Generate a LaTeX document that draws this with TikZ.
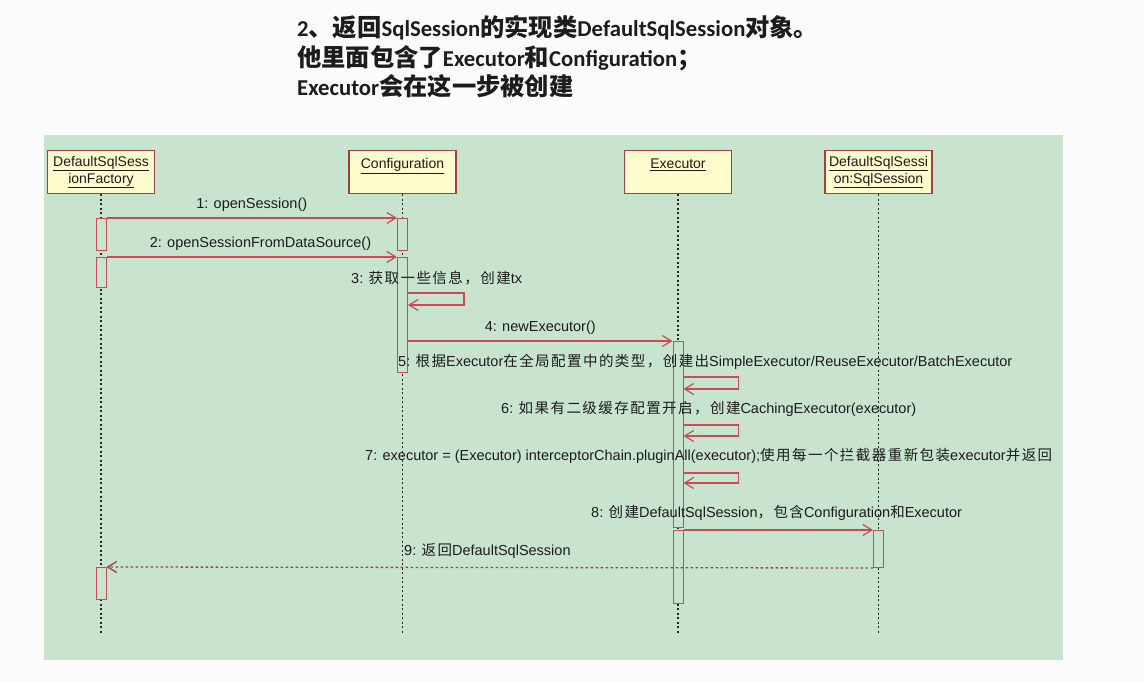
\documentclass[tikz,border=0pt]{standalone}
\usepackage{fontspec}
\setmainfont{Liberation Sans}
\newfontfamily\cjk{Noto Sans CJK SC}[LetterSpace=10]
\newfontfamily\hdcjk{Noto Sans CJK SC}[Scale=1.07]
\newfontfamily\hdlat{Carlito}
\usetikzlibrary{arrows.meta,positioning}
\definecolor{paper}{RGB}{250,251,250}
\definecolor{panel}{RGB}{200,228,207}
\definecolor{headfill}{RGB}{255,252,206}
\definecolor{headline}{RGB}{160,64,64}
\definecolor{msgred}{RGB}{200,76,88}
\definecolor{retred}{RGB}{150,70,70}
\definecolor{ink}{RGB}{28,28,28}
\newcommand{\zh}[1]{{\cjk #1}}
\newcommand{\hz}[1]{{\hdcjk #1}}

\begin{document}
\begin{tikzpicture}[x=1pt, y=-1pt,
  head/.style={draw=headline, line width=1.5pt, fill=headfill, minimum width=107pt,
    minimum height=43pt, align=center, text=ink, inner sep=1pt,
    font=\fontsize{14}{17}\selectfont},
  act/.style={draw=msgred, line width=1pt, fill=panel, minimum width=10pt, inner sep=0pt},
  life/.style={black!85, line width=1.2pt, dash pattern=on 2pt off 2.5pt},
  msg/.style={->, draw=msgred, line width=1.2pt},
  ret/.style={->, draw=retred, line width=1.3pt, dash pattern=on 2.5pt off 2.5pt},
  lbl/.style={text=ink, inner sep=1pt, font=\fontsize{14.5}{17}\selectfont},
  title/.style={anchor=west, inner sep=0pt, text=ink, font=\hdlat\bfseries\fontsize{22.7}{27}\selectfont},
  >={Straight Barb[length=9pt, width=11pt]}]

\useasboundingbox[fill=paper] (0,0) rectangle (1144,682);
\fill[panel] (44,135) rectangle (1063,660);

% heading
\node[title] (t1) at (297,28) {2\hz{、返回}SqlSession\hz{的实现类}DefaultSqlSession\hz{对象。}};
\node[title] (t2) at (297,58) {\hz{他里面包含了}Executor\hz{和}Configuration\hz{；}};
\node[title] (t3) at (297,86) {Executor\hz{会在这一步被创建}};

% objects
\node[head] (fac) at (101,172) {\underline{DefaultSqlSess}\\\underline{ionFactory}};
\node[head, right=193pt of fac] (cfg) {\underline{Configuration}\\\mbox{}};
\node[head, right=167pt of cfg] (exe) {\underline{Executor}\\\mbox{}};
\node[head, right=92pt of exe] (ses) {\underline{DefaultSqlSessi}\\\underline{on:SqlSession}};

\coordinate (bottom) at (0,635);
\draw[life] (fac.south) -- (fac |- bottom);
\draw[life] (cfg.south) -- (cfg |- bottom);
\draw[life] (exe.south) -- (exe |- bottom);
\draw[life] (ses.south) -- (ses |- bottom);

% activations
\node[act, anchor=north, minimum height=32pt] (fa1) at (fac |- 0,218) {};
\node[act, anchor=north, minimum height=30pt] (fa2) at (fac |- 0,257) {};
\node[act, anchor=north, minimum height=32pt] (fa3) at (fac |- 0,567) {};
\node[act, anchor=north, minimum height=32pt] (ca1) at (cfg |- 0,218) {};
\node[act, anchor=north, minimum height=115pt] (ca2) at (cfg |- 0,257) {};
\node[act, anchor=north, minimum height=186pt] (ea1) at (exe |- 0,341) {};
\node[act, anchor=north, minimum height=73pt] (ea2) at (exe |- 0,530) {};
\node[act, anchor=north, minimum height=37pt] (sa1) at (ses |- 0,530) {};

% messages
\draw[msg] (fa1.north east) -- node[lbl, above=5pt] (l1) {1: openSession()} (ca1.north west);
\draw[msg] (fa2.north east) -- node[lbl, above=5pt, pos=0.53] (l2) {2: openSessionFromDataSource()} (ca2.north west);
\draw[msg] (ca2.east |- 0,293) -- ++(56,0) |- (ca2.east |- 0,305);
\node[lbl, anchor=west] (l3) at (350,278) {3: \zh{获取一些信息，创建}tx};
\draw[msg] (ea1.north west -| ca2.east) -- node[lbl, above=5pt] (l4) {4: newExecutor()} (ea1.north west);
\draw[msg] (ea1.east |- 0,377) -- ++(55,0) |- (ea1.east |- 0,389);
\node[lbl, anchor=west] (l5) at (397,362) {5: \zh{根据}Executor\zh{在全局配置中的类型，创建出}SimpleExecutor/ReuseExecutor/BatchExecutor};
\draw[msg] (ea1.east |- 0,425) -- ++(55,0) |- (ea1.east |- 0,436);
\node[lbl, anchor=west] (l6) at (500,409) {6: \zh{如果有二级缓存配置开启，创建}CachingExecutor(executor)};
\draw[msg] (ea1.east |- 0,473) -- ++(55,0) |- (ea1.east |- 0,483);
\node[lbl, anchor=west] (l7) at (364,456) {7: executor = (Executor) interceptorChain.pluginAll(executor);\zh{使用每一个拦截器重新包装}executor\zh{并返回}};
\draw[msg] (ea2.north east) -- (sa1.north west);
\node[lbl, anchor=west] (l8) at (590,513) {8: \zh{创建}DefaultSqlSession\zh{，包含}Configuration\zh{和}Executor};
\draw[ret] (sa1.south west) -- (fa3.north east);
\node[lbl, anchor=west] (l9) at (403,551) {9: \zh{返回}DefaultSqlSession};
\end{tikzpicture}
\end{document}
